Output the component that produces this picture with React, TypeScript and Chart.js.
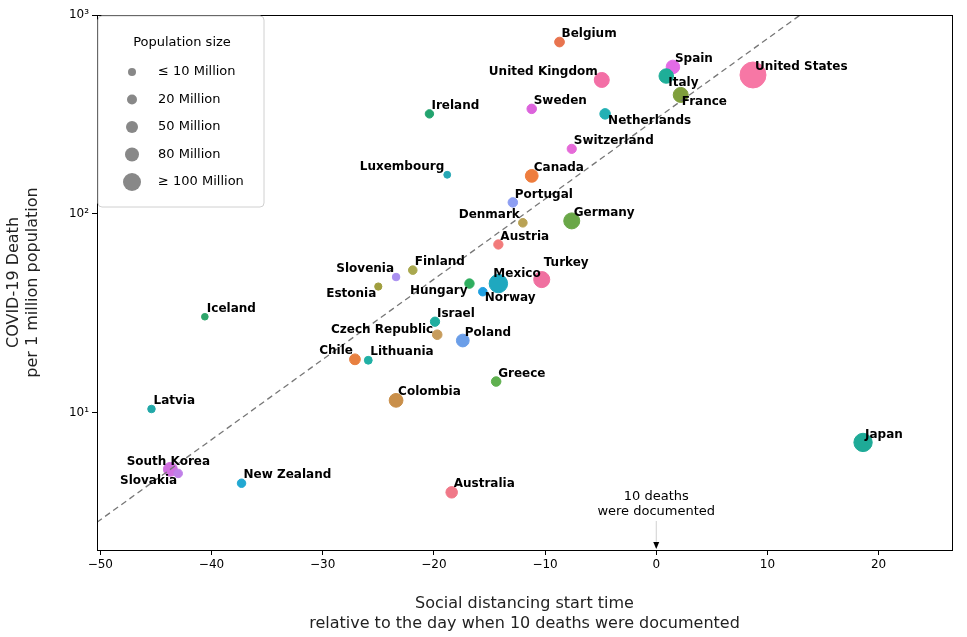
import React, { useEffect, useRef } from "react";
import { Chart, registerables } from "chart.js";
Chart.register(...registerables);

const countries = ["Belgium","Spain","United Kingdom","Italy","United States","France","Ireland","Sweden","Netherlands","Switzerland","Luxembourg","Canada","Portugal","Germany","Denmark","Austria","Slovenia","Finland","Estonia","Hungary","Mexico","Norway","Turkey","Iceland","Israel","Czech Republic","Poland","Chile","Lithuania","Greece","Colombia","Latvia","Japan","South Korea","Slovakia","New Zealand","Australia"];
const startDay = [-8.7,1.5,-4.9,0.9,8.7,2.2,-20.4,-11.2,-4.6,-7.6,-18.8,-11.2,-12.9,-7.6,-12.0,-14.2,-23.4,-21.9,-25.0,-16.8,-14.2,-15.6,-10.3,-40.6,-19.9,-19.7,-17.4,-27.1,-25.9,-14.4,-23.4,-45.4,18.6,-43.7,-43.0,-37.3,-18.4];
const deaths = [731,548,471,493,499,396,318,337,318,212,157,155,114,92,90,70,48,52,43,44.5,44.5,40.5,46.6,30.3,28.6,24.6,23.0,18.5,18.3,14.3,11.5,10.4,7.06,5.17,4.93,4.4,3.96];
const populationM = [11.5,47,67,60,330,67,4.9,10.3,17,8.6,0.6,38,10.3,83,5.8,9,2,5.5,1.3,9.7,128,5.4,84,0.36,9,10.7,38,19,2.8,10.4,50,1.9,126,51,5.4,5,25];
const colors = ["#e8744f","#e36be6","#f36fa6","#1eae98","#f777a5","#7f9f3c","#22a36e","#dc63dc","#23b0b4","#e56ad8","#27a8b5","#ee7d3e","#8d9ef2","#6aa748","#b9a254","#f27b7b","#a98ff0","#a9a84f","#a09e3e","#2fae5f","#1fa8bf","#1f9fe0","#f070a0","#2ea56a","#21ae9f","#c79c5c","#6b9ee8","#e88040","#21b0a5","#5fb04f","#c98f4a","#22a8a8","#1eaa97","#d070e0","#c080e8","#22a8d2","#f07888"];
const xTicks = [-50,-40,-30,-20,-10,0,10,20];
const yTicks = [10,100,1000];
const trendX = [-50.3, 12.95, 30];
const trendY = [2.8, 1000, 10 ** (Math.log10(2.8) + 0.04036 * 80.3)];
const legendLabels = ["\u2264 10 Million","20 Million","50 Million","80 Million","\u2265 100 Million"];
const legendRadii = [4, 5, 6, 7, 9];

// label placement: [dx, dy, align]
const place: Record<string, [number, number, string]> = {
  "United Kingdom": [-4, -8, "right"], "Italy": [2, 7, "left"], "France": [1, 7, "left"],
  "Netherlands": [3, 7, "left"], "Luxembourg": [-3, -8, "right"], "Denmark": [-3, -8, "right"],
  "Slovenia": [-2, -8, "right"], "Estonia": [-2, 7, "right"], "Hungary": [-2, 7, "right"],
  "Mexico": [-5, -10, "left"], "Norway": [2, 6, "left"], "Turkey": [2, -17, "left"],
  "Czech Republic": [-4, -5, "right"], "Chile": [-2, -8, "right"], "South Korea": [-2, -7, "center"],
  "Slovakia": [-1, 7, "right"], "United States": [2, -8, "left"], "Japan": [2, -8, "left"],
};

const radius = (p: number) => 3 + Math.sqrt(p) * 0.55;

export default function App() {
  const ref = useRef<HTMLCanvasElement>(null);
  useEffect(() => {
    const sup: Record<number, string> = { 10: "10\u00b9", 100: "10\u00b2", 1000: "10\u00b3" };
    const deco = {
      id: "deco",
      afterDatasetsDraw(chart: any) {
        const ctx = chart.ctx;
        const xs = chart.scales.x, ys = chart.scales.y;
        const a = chart.chartArea;
        ctx.save();
        // labels
        ctx.font = "bold 12px 'DejaVu Sans'";
        ctx.fillStyle = "#000";
        ctx.textBaseline = "middle";
        countries.forEach((c, i) => {
          const px = xs.getPixelForValue(startDay[i]);
          const py = ys.getPixelForValue(deaths[i]);
          const pl = place[c] || [2, -8, "left"];
          ctx.textAlign = pl[2];
          ctx.fillText(c, px + pl[0], py + pl[1]);
        });
        // border
        ctx.strokeStyle = "#000";
        ctx.lineWidth = 1;
        ctx.strokeRect(a.left + 0.5, a.top + 0.5, a.right - a.left, a.bottom - a.top);
        // legend
        const lx = a.left + 1, ly = a.top + 1;
        ctx.fillStyle = "rgba(255,255,255,0.9)";
        ctx.strokeStyle = "#d0d0d0";
        ctx.beginPath();
        (ctx as any).roundRect(lx, ly, 166, 191, 4);
        ctx.fill(); ctx.stroke();
        ctx.fillStyle = "#000";
        ctx.font = "13px 'DejaVu Sans'";
        ctx.textAlign = "center";
        ctx.fillText("Population size", lx + 84, ly + 27);
        ctx.textAlign = "left";
        legendLabels.forEach((t, i) => {
          const yy = ly + 56 + i * 27.5;
          ctx.fillStyle = "#888";
          ctx.beginPath(); ctx.arc(lx + 34, yy, legendRadii[i], 0, Math.PI * 2); ctx.fill();
          ctx.fillStyle = "#000";
          ctx.fillText(t, lx + 60, yy);
        });
        // annotation
        const ax = xs.getPixelForValue(0);
        ctx.textAlign = "center";
        ctx.font = "13px 'DejaVu Sans'";
        ctx.fillText("10 deaths", ax, 497);
        ctx.fillText("were documented", ax, 512);
        ctx.beginPath(); ctx.moveTo(ax, 521); ctx.lineTo(ax, a.bottom - 2); ctx.stroke();
        ctx.beginPath(); ctx.moveTo(ax - 3, a.bottom - 8); ctx.lineTo(ax, a.bottom - 1); ctx.lineTo(ax + 3, a.bottom - 8); ctx.closePath(); ctx.fill();
        ctx.restore();
      },
    };
    const chart = new Chart(ref.current!, {
      type: "scatter",
      data: {
        datasets: [
          {
            type: "line",
            data: trendX.map((x, i) => ({ x, y: trendY[i] })),
            borderColor: "#777",
            borderDash: [6, 4],
            borderWidth: 1.3,
            pointRadius: 0,
            fill: false,
          } as any,
          {
            data: countries.map((_, i) => ({ x: startDay[i], y: deaths[i] })),
            backgroundColor: colors,
            borderColor: colors,
            pointRadius: populationM.map(radius),
            pointHoverRadius: populationM.map(radius),
          },
        ],
      },
      options: {
        animation: false,
        responsive: false,
        layout: { padding: { top: 15, right: 15 } },
        plugins: { legend: { display: false }, tooltip: { enabled: false } },
        scales: {
          x: {
            type: "linear", min: -50.3, max: 26.6,
            afterBuildTicks: (s: any) => { s.ticks = xTicks.map((v) => ({ value: v })); },
            afterFit: (s: any) => { s.height = 87; },
            grid: { drawOnChartArea: false, tickLength: 5, color: "#000" },
            border: { display: false },
            ticks: { color: "#000", font: { family: "DejaVu Sans", size: 12 }, callback: (v: any) => String(v).replace("-", "\u2212") },
            title: { display: true, text: ["Social distancing start time", "relative to the day when 10 deaths were documented"], color: "#222", font: { family: "DejaVu Sans", size: 16 }, padding: { top: 12 } },
          },
          y: {
            type: "logarithmic", min: 2.03, max: 1000,
            afterBuildTicks: (s: any) => { s.ticks = yTicks.map((v) => ({ value: v })); },
            afterFit: (s: any) => { s.width = 97; },
            grid: { drawOnChartArea: false, tickLength: 5, color: "#000" },
            border: { display: false },
            ticks: { color: "#000", font: { family: "DejaVu Sans", size: 12 }, callback: (v: any) => sup[v as number] || "" },
            title: { display: true, text: ["COVID-19 Death", "per 1 million population"], color: "#222", font: { family: "DejaVu Sans", size: 16 } },
          },
        },
      },
      plugins: [deco],
    } as any);
    return () => chart.destroy();
  }, []);
  return (
    <div style={{ position: "fixed", left: 0, top: 0, width: 967, height: 637, background: "#fff" }}>
      <canvas ref={ref} width={967} height={637} />
    </div>
  );
}
